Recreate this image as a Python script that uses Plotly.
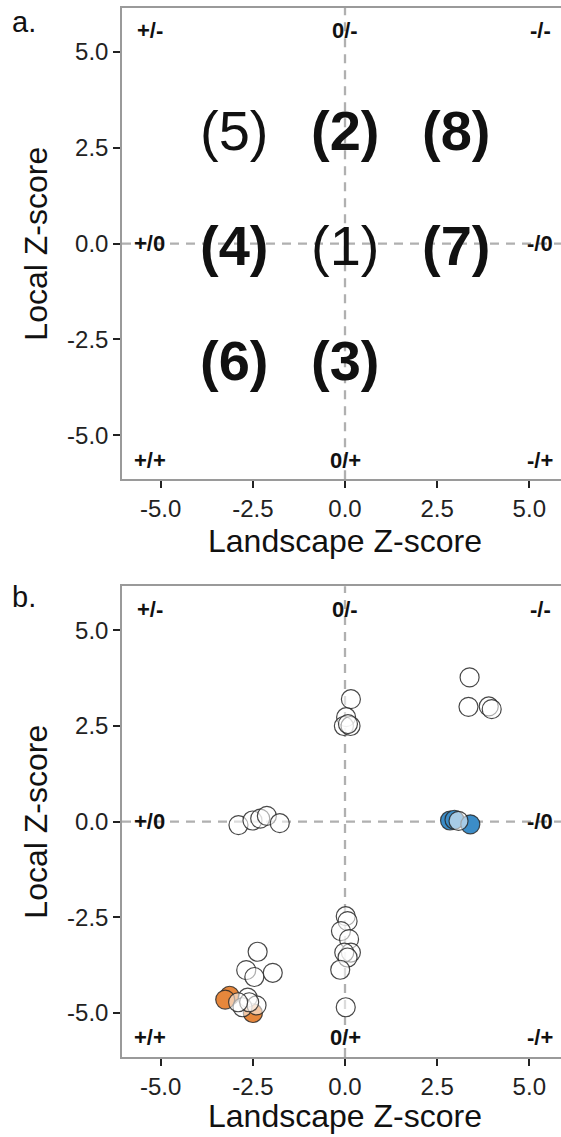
import plotly.graph_objects as go

# ---------------- data ----------------
# Panel a: category labels placed on the landscape/local grid
cat_text = ["(5)", "(2)", "(8)", "(4)", "(1)", "(7)", "(6)", "(3)"]
cat_x = [-3, 0, 3, -3, 0, 3, -3, 0]
cat_y = [3, 3, 3, 0, 0, 0, -3, -3]
cat_bold = [False, True, True, True, False, True, True, True]

# Corner / edge labels (both panels)
edge_text = ["+/-", "0/-", "-/-", "+/0", "-/0", "+/+", "0/+", "-/+"]
edge_x = [-5.3, 0, 5.3, -5.3, 5.3, -5.3, 0, 5.3]
edge_y = [5.55, 5.55, 5.55, 0, 0, -5.65, -5.65, -5.65]

# Panel b: points (landscape z, local z)
white_x = [-2.89, -2.51, -2.30, -2.12, -1.77,
           0.16, 0.03, -0.03, 0.15, 0.08,
           3.38, 3.35, 3.90, 3.98,
           0.02, 0.07, -0.11, 0.11, 0.16, -0.02, 0.07, -0.13, 0.02,
           -2.37, -2.68, -1.96, -2.46, -2.64, -2.78, -2.40, -2.60, -2.90,
           3.08]
white_y = [-0.09, 0.03, 0.08, 0.15, -0.04,
           3.20, 2.73, 2.50, 2.50, 2.55,
           3.77, 3.00, 3.01, 2.94,
           -2.47, -2.60, -2.86, -3.07, -3.42, -3.42, -3.55, -3.87, -4.85,
           -3.40, -3.88, -3.95, -4.06, -4.60, -4.85, -4.80, -4.72, -4.72,
           0.02]
orange_x = [-3.13, -3.25, -2.50]
orange_y = [-4.55, -4.65, -5.00]
blue_x = [2.85, 2.97, 3.40]
blue_y = [0.03, 0.05, -0.07]

tick_vals = [-5, -2.5, 0, 2.5, 5]
tick_text = ["-5.0", "-2.5", "0.0", "2.5", "5.0"]
x_title = "Landscape Z-score"
y_title = "Local Z-score"
panel_tags = ["a.", "b."]

# ---------------- figure ----------------
FONT = "Liberation Sans, Arial, sans-serif"
fig = go.Figure()

mk_line = dict(color="rgba(40,40,40,0.85)", width=1.2)
fig.add_trace(go.Scatter(x=orange_x, y=orange_y, mode="markers", xaxis="x2", yaxis="y2",
                         marker=dict(size=19, color="#E6873C", line=mk_line), showlegend=False))
fig.add_trace(go.Scatter(x=blue_x, y=blue_y, mode="markers", xaxis="x2", yaxis="y2",
                         marker=dict(size=19, color="#3C8DC8", line=mk_line), showlegend=False))
fig.add_trace(go.Scatter(x=white_x, y=white_y, mode="markers", xaxis="x2", yaxis="y2",
                         marker=dict(size=19, color="rgba(255,255,255,0.55)", line=mk_line),
                         showlegend=False))
# invisible trace to activate panel a axes
fig.add_trace(go.Scatter(x=[0], y=[0], mode="markers", xaxis="x", yaxis="y",
                         marker=dict(opacity=0), showlegend=False, hoverinfo="skip"))

axis_common = dict(
    tickvals=tick_vals, ticktext=tick_text, ticks="outside", ticklen=7, tickwidth=2,
    tickcolor="#222", showgrid=False, zeroline=False, showline=True,
    linecolor="#9a9a9a", linewidth=1.5,
    tickfont=dict(family=FONT, size=24, color="#222"),
)
XR = [-6.05, 5.86]
YR = [-6.15, 6.15]
fig.update_layout(
    width=561, height=1137,
    margin=dict(l=122, r=0, t=8, b=80),
    paper_bgcolor="white", plot_bgcolor="white",
    xaxis=dict(domain=[0, 1], range=XR, anchor="y", mirror=True, **axis_common),
    yaxis=dict(domain=[0.5507, 1], range=YR, anchor="x", **axis_common),
    xaxis2=dict(domain=[0, 1], range=XR, anchor="y2", mirror=True, **axis_common),
    yaxis2=dict(domain=[0, 0.4487], range=YR, anchor="x2", **axis_common),
)

dash = dict(color="#b0b0b0", width=2.3, dash="9px,7px")
shapes = []
for xr, yr in (("x", "y"), ("x2", "y2")):
    shapes.append(dict(type="line", xref=xr, yref=yr + " domain", x0=0, x1=0, y0=0, y1=1,
                       line=dash, layer="below"))
    shapes.append(dict(type="line", xref=xr + " domain", yref=yr, x0=0, x1=1, y0=0, y1=0,
                       line=dash, layer="below"))
fig.update_layout(shapes=shapes)

ann = []
for t, x, y, b in zip(cat_text, cat_x, cat_y, cat_bold):
    ann.append(dict(x=x, y=y, xref="x", yref="y", text=f"<b>{t}</b>" if b else t,
                    showarrow=False, font=dict(family=FONT, size=56, color="#111"),
                    xanchor="center", yanchor="middle", yshift=-2))
for xr, yr, ys in (("x", "y", -62), ("x2", "y2", -59)):
    for t, x, y in zip(edge_text, edge_x, edge_y):
        ann.append(dict(x=x, y=y, xref=xr, yref=yr, text=f"<b>{t}</b>", showarrow=False,
                        font=dict(family=FONT, size=22, color="#111"),
                        xanchor="center", yanchor="middle"))
    ann.append(dict(x=0, y=0, xref=xr, yref=yr + " domain", text=x_title, showarrow=False,
                    font=dict(family=FONT, size=32, color="#111"),
                    xanchor="center", yanchor="middle", yshift=ys))
    ann.append(dict(x=0, y=0.5, xref="paper", yref=yr + " domain", text=y_title,
                    showarrow=False, textangle=-90,
                    font=dict(family=FONT, size=32, color="#111"),
                    xanchor="center", yanchor="middle", xshift=-86))
for tag, yr in zip(panel_tags, ("y", "y2")):
    ann.append(dict(x=0, y=1, xref="paper", yref=yr + " domain", text=tag, showarrow=False,
                    font=dict(family=FONT, size=29, color="#111"),
                    xanchor="center", yanchor="middle", xshift=-98,
                    yshift=-14 if tag == "a." else -11))
fig.update_layout(annotations=ann)

fig.write_html("out.html")
